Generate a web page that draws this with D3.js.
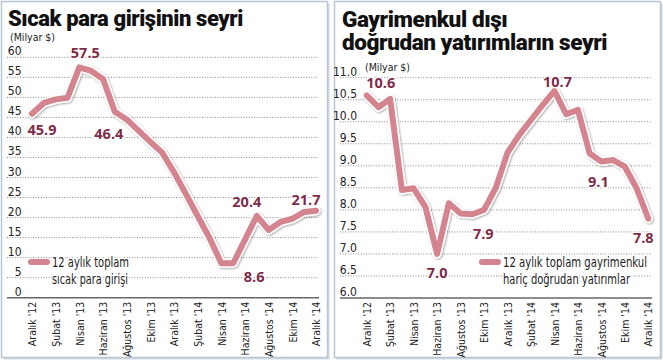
<!DOCTYPE html>
<html>
<head>
<meta charset="utf-8">
<script src="https://cdn.jsdelivr.net/npm/d3@7"></script>
<style>
  html, body { margin: 0; padding: 0; background: #fff; }
  svg { display: block; }
</style>
</head>
<body>
<div id="chart"></div>
<script>
// months on the x axis, Dec 2012 .. Dec 2014
const months = ["Aralık '12", "Ocak '13", "Şubat '13", "Mart '13", "Nisan '13", "Mayıs '13",
  "Haziran '13", "Temmuz '13", "Ağustos '13", "Eylül '13", "Ekim '13", "Kasım '13",
  "Aralık '13", "Ocak '14", "Şubat '14", "Mart '14", "Nisan '14", "Mayıs '14",
  "Haziran '14", "Temmuz '14", "Ağustos '14", "Eylül '14", "Ekim '14", "Kasım '14", "Aralık '14"];
const monthTicks = ["Aralık '12", "Şubat '13", "Nisan '13", "Haziran '13", "Ağustos '13", "Ekim '13",
  "Aralık '13", "Şubat '14", "Nisan '14", "Haziran '14", "Ağustos '14", "Ekim '14", "Aralık '14"];

// 12 aylık toplam sıcak para girişi (milyar $)
const hotMoney = [45.9, 48.6, 49.5, 49.9, 57.5, 56.6, 54.6, 46.4, 44.5, 41.7, 38.9, 36.2, 31.3,
  25.9, 20.4, 14.9, 8.6, 8.6, 14.5, 20.4, 16.9, 18.9, 19.7, 21.4, 21.7];
const hotTicks = [0, 5, 10, 15, 20, 25, 30, 35, 40, 45, 50, 55, 60];
const hotLabelIdx = [0, 4, 7, 17, 19, 24];

// 12 aylık toplam gayrimenkul hariç doğrudan yatırımlar (milyar $)
const fdi = [10.6, 10.33, 10.52, 8.45, 8.49, 8.07, 7.0, 8.15, 7.92, 7.9, 8.0, 8.5, 9.3,
  9.7, 10.04, 10.38, 10.7, 10.17, 10.27, 9.28, 9.1, 9.13, 8.98, 8.49, 7.8];
const fdiTicks = [6.0, 6.5, 7.0, 7.5, 8.0, 8.5, 9.0, 9.5, 10.0, 10.5, 11.0];
const fdiLabelIdx = [0, 6, 9, 16, 20, 24];

const W = 663, H = 363;
const LINE = '#d4848f', LABEL = '#7e2c49';
const NARROW = '"Liberation Sans Narrow", "DejaVu Sans Condensed", sans-serif';

const svg = d3.select('#chart').append('svg')
  .attr('width', W).attr('height', H);

const defs = svg.append('defs');
defs.append('filter').attr('id', 'shadow')
  .attr('x', '-10%').attr('y', '-10%').attr('width', '120%').attr('height', '120%')
  .append('feDropShadow')
  .attr('dx', 1).attr('dy', 1).attr('stdDeviation', 1)
  .attr('flood-color', '#000').attr('flood-opacity', 0.35);

// scale the font of a text selection so its widest node is `width` px wide
function fitWidth(sel, width, base) {
  let widest = 0;
  sel.each(function () { widest = Math.max(widest, this.getComputedTextLength()); });
  if (widest > 0) sel.style('font-size', (base * width / widest).toFixed(2) + 'px');
}

function drawPanel(p) {
  const g = svg.append('g');

  // panel box
  g.append('rect')
    .attr('x', p.box[0] + 2).attr('y', p.box[1] + 2)
    .attr('width', p.box[2]).attr('height', p.box[3])
    .attr('fill', '#d5d9de');
  g.append('rect')
    .attr('x', p.box[0]).attr('y', p.box[1])
    .attr('width', p.box[2]).attr('height', p.box[3])
    .attr('fill', '#fff').attr('stroke', '#b7c7d6').attr('stroke-width', 1.5);

  // title
  const title = g.append('g').selectAll('text')
    .data(p.title)
    .enter().append('text')
    .attr('x', p.titleX).attr('y', (d, i) => p.titleY + i * 23)
    .style('font-family', 'Roboto, sans-serif')
    .style('font-weight', 900)
    .style('font-size', '22px')
    .style('letter-spacing', '-0.4px')
    .attr('fill', '#111')
    .text(d => d);
  fitWidth(title, p.titleW, 22);

  g.append('text')
    .attr('x', p.unitX).attr('y', p.unitY)
    .style('font-family', NARROW).style('font-size', '10.5px')
    .attr('fill', '#222')
    .text('(Milyar $)');

  const x = d3.scalePoint().domain(months).range(p.xRange);
  const y = d3.scaleLinear().domain(p.yDomain).range(p.yRange);

  // grid lines
  g.append('g')
    .selectAll('line')
    .data(p.ticks.slice(1))
    .enter().append('line')
    .attr('x1', p.gridX[0]).attr('x2', p.gridX[1])
    .attr('y1', d => y(d)).attr('y2', d => y(d))
    .attr('stroke', '#8a8a8a').attr('stroke-width', 1)
    .attr('stroke-dasharray', '1,1.6');

  // y tick labels, sitting just above their grid line
  g.append('g')
    .selectAll('text')
    .data(p.ticks)
    .enter().append('text')
    .attr('x', p.yLabelX).attr('y', d => y(d) - 2)
    .attr('text-anchor', 'end')
    .style('font-family', NARROW).style('font-size', '12px')
    .attr('fill', '#222')
    .text(p.fmt);

  // x axis
  const xAxis = d3.axisBottom(x).tickValues(monthTicks).tickSize(0).tickPadding(0);
  const ax = g.append('g')
    .attr('transform', 'translate(0,' + p.yRange[0] + ')')
    .call(xAxis);
  ax.select('.domain').remove();
  ax.selectAll('text')
    .attr('transform', 'rotate(-90)')
    .attr('x', -4).attr('y', 0).attr('dy', '0.35em')
    .attr('text-anchor', 'end')
    .style('font-family', NARROW).style('font-size', '10.5px')
    .attr('fill', '#222');
  g.append('line')
    .attr('x1', p.gridX[0]).attr('x2', p.gridX[1])
    .attr('y1', p.yRange[0]).attr('y2', p.yRange[0])
    .attr('stroke', '#666').attr('stroke-width', 1.5);

  // legend: condensed text squeezed to the reference widths
  g.append('line')
    .attr('x1', p.legend[0]).attr('x2', p.legend[0] + 16)
    .attr('y1', p.legend[1]).attr('y2', p.legend[1])
    .attr('stroke', LINE).attr('stroke-width', 6).attr('stroke-linecap', 'round');
  g.append('g').selectAll('text')
    .data(p.legendText)
    .enter().append('text')
    .attr('x', p.legend[0] + 21).attr('y', (d, i) => p.legend[1] + 5 + i * 17)
    .attr('textLength', (d, i) => p.legendW[i])
    .attr('lengthAdjust', 'spacingAndGlyphs')
    .style('font-family', NARROW).style('font-size', '13.5px')
    .attr('fill', '#222')
    .attr('stroke', '#fff').attr('stroke-width', 3).attr('paint-order', 'stroke')
    .text(d => d);

  // series line with white halo and a soft shadow
  const line = d3.line()
    .x((d, i) => x(months[i]))
    .y(d => y(d));
  g.append('path')
    .datum(p.values)
    .attr('d', line)
    .attr('fill', 'none')
    .attr('stroke', '#fff').attr('stroke-width', 9)
    .attr('stroke-linejoin', 'round').attr('stroke-linecap', 'round')
    .attr('filter', 'url(#shadow)');
  g.append('path')
    .datum(p.values)
    .attr('d', line)
    .attr('fill', 'none')
    .attr('stroke', LINE).attr('stroke-width', 6)
    .attr('stroke-linejoin', 'round').attr('stroke-linecap', 'round');

  // value labels
  g.append('g')
    .selectAll('text')
    .data(p.labelIdx)
    .enter().append('text')
    .attr('x', (d, i) => x(months[d]) + p.labelOff[i][0])
    .attr('y', (d, i) => y(p.values[d]) + p.labelOff[i][1])
    .attr('dy', '0.36em')
    .attr('text-anchor', 'middle')
    .style('font-family', '"Open Sans", sans-serif')
    .style('font-weight', 700).style('font-size', '14.5px')
    .attr('fill', LABEL)
    .attr('stroke', '#fff').attr('stroke-width', 2.5).attr('paint-order', 'stroke')
    .text(d => p.values[d].toFixed(1));
}

drawPanel({
  box: [1.5, 1.5, 326, 356],
  title: ['Sıcak para girişinin seyri'],
  titleX: 8, titleY: 26, titleW: 235,
  unitX: 10, unitY: 41,
  values: hotMoney,
  ticks: hotTicks,
  fmt: d => d,
  yDomain: [0, 60], yRange: [297.7, 57.3],
  xRange: [32, 316],
  gridX: [7, 319],
  yLabelX: 21.5,
  legend: [31, 262], legendW: [77, 76],
  legendText: ['12 aylık toplam', 'sıcak para girişi'],
  labelIdx: hotLabelIdx,
  labelOff: [[10, 16], [6, -15], [-6, 22], [21, 14], [-10, -14], [-10, -11]]
});

drawPanel({
  box: [334.5, 1.5, 326, 356],
  title: ['Gayrimenkul dışı', 'doğrudan yatırımların seyri'],
  titleX: 342, titleY: 26.5, titleW: 265,
  unitX: 365, unitY: 71,
  values: fdi,
  ticks: fdiTicks,
  fmt: d => d.toFixed(1),
  yDomain: [6, 11], yRange: [298, 77.7],
  xRange: [366.7, 648.3],
  gridX: [340, 652],
  yLabelX: 357,
  legend: [482, 262], legendW: [144, 127],
  legendText: ['12 aylık toplam gayrimenkul', 'hariç doğrudan yatırımlar'],
  labelIdx: fdiLabelIdx,
  labelOff: [[14, -13], [0, 19], [11, 19], [3, -9], [-3, 20], [-5, 19]]
});
</script>
</body>
</html>
